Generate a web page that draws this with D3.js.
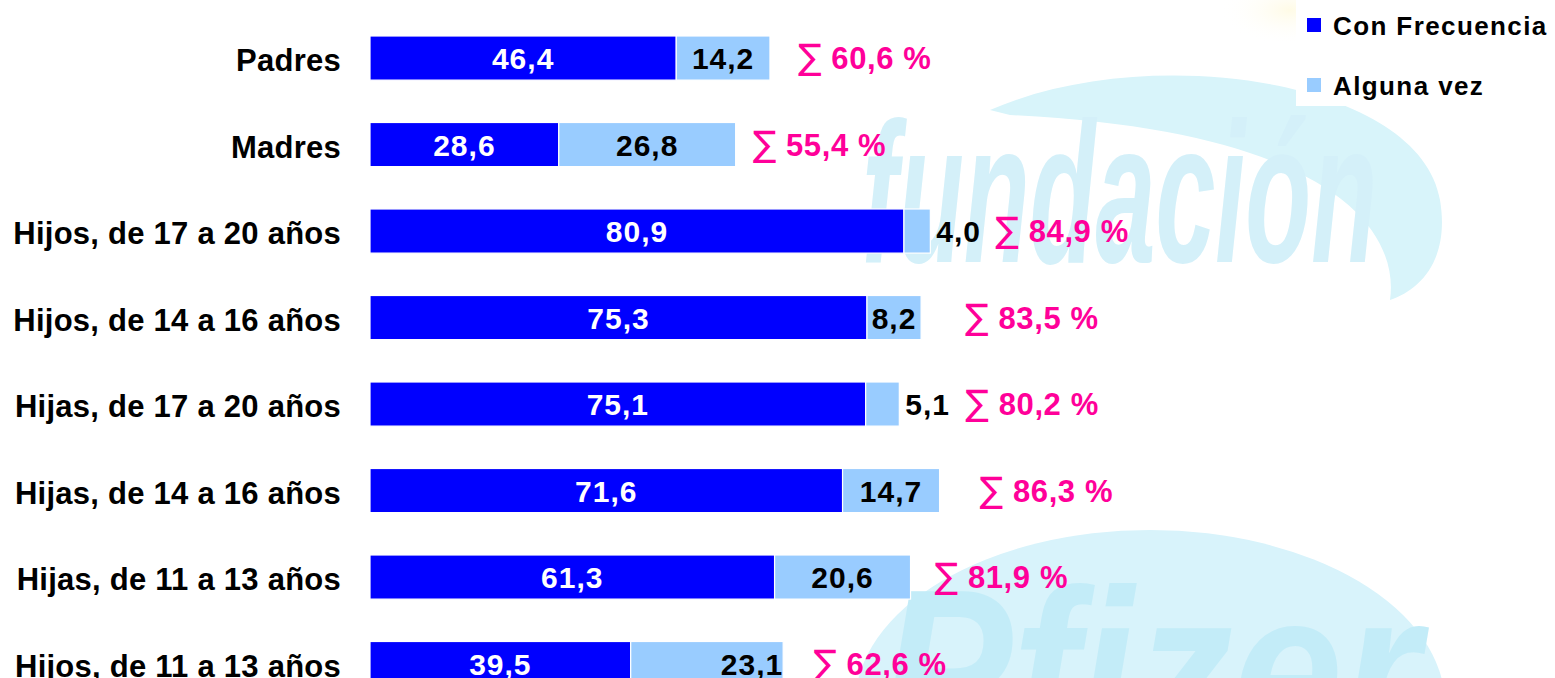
<!DOCTYPE html>
<html>
<head>
<meta charset="utf-8">
<script src="https://cdn.jsdelivr.net/npm/d3@7"></script>
<style>
  html, body { margin: 0; padding: 0; background: #fff; }
  svg { display: block; font-family: "Liberation Sans", Arial, sans-serif; }
</style>
</head>
<body>
<div class="bars"></div>
<script>
var categories = ["Padres", "Madres", "Hijos, de 17 a 20 años", "Hijos, de 14 a 16 años",
                  "Hijas, de 17 a 20 años", "Hijas, de 14 a 16 años", "Hijas, de 11 a 13 años",
                  "Hijos, de 11 a 13 años"];
var conFrecuencia = [46.4, 28.6, 80.9, 75.3, 75.1, 71.6, 61.3, 39.5];
var algunaVez = [14.2, 26.8, 4.0, 8.2, 5.1, 14.7, 20.6, 23.1];
var keys = ["Con Frecuencia", "Alguna vez"];

// where the light value sits, and the gap before the sum label (layout only)
var lightPos = ["mid", "mid", "out", "mid", "out", "mid", "mid", "end"];
var sumGap = [28, 17, 65, 44, 66, 40, 24, 30];

var width = 1555, height = 678;

var data = categories.map(function(c, i) {
    return {cat: c, "Con Frecuencia": conFrecuencia[i], "Alguna vez": algunaVez[i], i: i};
});

var x = d3.scaleLinear().domain([0, 100]).range([370, 1030]);
var y = d3.scaleBand()
    .domain(categories)
    .range([14.8, 14.8 + 8 * 86.5])
    .paddingInner(0.49)
    .paddingOuter(0.245);
var z = d3.scaleOrdinal().domain(keys).range(["#0000FF", "#99CCFF"]);
var fmt = function(v) { return d3.format(".1f")(v).replace(".", ","); };

var svg = d3.select(".bars").append("svg")
    .attr("width", width)
    .attr("height", height);

// watermark
var defs = svg.append("defs");
var glow = defs.append("radialGradient").attr("id", "glow");
glow.append("stop").attr("offset", "0%").attr("stop-color", "#fffbe6");
glow.append("stop").attr("offset", "100%").attr("stop-color", "#ffffff").attr("stop-opacity", 0);

var wm = svg.append("g").attr("class", "watermark");
wm.append("ellipse")
    .attr("cx", 1290).attr("cy", 10).attr("rx", 70).attr("ry", 35)
    .attr("fill", "url(#glow)");
wm.append("path")
    .attr("d", "M 990 110 C 1150 40, 1420 80, 1440 200 C 1450 260, 1420 290, 1390 300 C 1400 230, 1330 130, 1010 115 Z")
    .attr("fill", "#d8f4fa");
wm.append("text")
    .attr("x", 862).attr("y", 262)
    .attr("textLength", 515).attr("lengthAdjust", "spacingAndGlyphs")
    .attr("font-size", 200).attr("font-style", "italic").attr("font-weight", "bold")
    .attr("fill", "#d4f0f9")
    .text("fundación");
wm.append("ellipse")
    .attr("cx", 1150).attr("cy", 705).attr("rx", 295).attr("ry", 175)
    .attr("fill", "#d8f3fb");
wm.append("text")
    .attr("x", 880).attr("y", 750)
    .attr("textLength", 540).attr("lengthAdjust", "spacingAndGlyphs")
    .attr("font-size", 230).attr("font-style", "italic").attr("font-weight", "bold")
    .attr("fill", "#c3ecf8")
    .text("Pfizer");

var bars = svg.append("g");

bars.append("g")
    .selectAll("g")
    .data(d3.stack().keys(keys)(data))
    .enter().append("g")
    .attr("fill", function(d) { return z(d.key); })
    .selectAll("rect")
    .data(function(d) { return d; })
    .enter().append("rect")
    .attr("x", function(d) { return x(d[0]); })
    .attr("y", function(d) { return y(d.data.cat); })
    .attr("width", function(d) { return x(d[1]) - x(d[0]); })
    .attr("height", y.bandwidth())
    .attr("stroke", "#fff")
    .attr("stroke-width", 1.2);

// category labels
bars.append("g")
    .selectAll("text")
    .data(categories)
    .enter().append("text")
    .attr("x", 341)
    .attr("y", function(d) { return y(d) + y.bandwidth() / 2 + 13; })
    .attr("text-anchor", "end")
    .attr("font-size", 31)
    .attr("font-weight", "bold")
    .attr("letter-spacing", 0.25)
    .attr("fill", "#000")
    .text(function(d) { return d; });

// dark values
bars.append("g")
    .selectAll("text")
    .data(data)
    .enter().append("text")
    .attr("x", function(d) { return x(d["Con Frecuencia"] / 2); })
    .attr("y", function(d) { return y(d.cat) + y.bandwidth() / 2 + 11; })
    .attr("text-anchor", "middle")
    .attr("font-size", 30)
    .attr("font-weight", "bold")
    .attr("letter-spacing", 1)
    .attr("fill", "#fff")
    .text(function(d) { return fmt(d["Con Frecuencia"]); });

// light values
bars.append("g")
    .selectAll("text")
    .data(data)
    .enter().append("text")
    .attr("x", function(d) {
        var a = d["Con Frecuencia"], b = a + d["Alguna vez"];
        if (lightPos[d.i] === "out") return x(b) + 6;
        if (lightPos[d.i] === "end") return x(b);
        return x((a + b) / 2);
    })
    .attr("y", function(d) { return y(d.cat) + y.bandwidth() / 2 + 11; })
    .attr("text-anchor", function(d) {
        return lightPos[d.i] === "out" ? "start" : lightPos[d.i] === "end" ? "end" : "middle";
    })
    .attr("font-size", 30)
    .attr("font-weight", "bold")
    .attr("letter-spacing", 1)
    .attr("fill", "#000")
    .text(function(d) { return fmt(d["Alguna vez"]); });

// totals
var sums = bars.append("g")
    .selectAll("text")
    .data(data)
    .enter().append("text")
    .attr("x", function(d) { return x(d["Con Frecuencia"] + d["Alguna vez"]) + sumGap[d.i]; })
    .attr("y", function(d) { return y(d.cat) + y.bandwidth() / 2 + 11; })
    .attr("font-size", 31)
    .attr("font-weight", "bold")
    .attr("letter-spacing", 0.6)
    .attr("fill", "#FF0099");
sums.append("tspan")
    .attr("font-weight", "normal")
    .attr("font-family", "DejaVu Sans")
    .attr("font-size", 35)
    .text("\u2211");
sums.append("tspan")
    .text(function(d) { return " " + fmt(d["Con Frecuencia"] + d["Alguna vez"]) + " %"; });

// Legend
var legend = svg.append("g");
legend.append("rect")
    .attr("x", 1296).attr("y", 0).attr("width", 259).attr("height", 106)
    .attr("fill", "#fff");
var item = legend.selectAll("g")
    .data(keys)
    .enter().append("g")
    .attr("transform", function(d, i) { return "translate(0," + i * 60 + ")"; });
item.append("rect")
    .attr("x", 1307).attr("y", 18)
    .attr("width", 14).attr("height", 14)
    .attr("fill", z);
item.append("text")
    .attr("x", 1333).attr("y", 35)
    .attr("font-size", 26)
    .attr("font-weight", "bold")
    .attr("letter-spacing", 1.4)
    .attr("fill", "#000")
    .text(function(d) { return d; });
</script>
</body>
</html>
